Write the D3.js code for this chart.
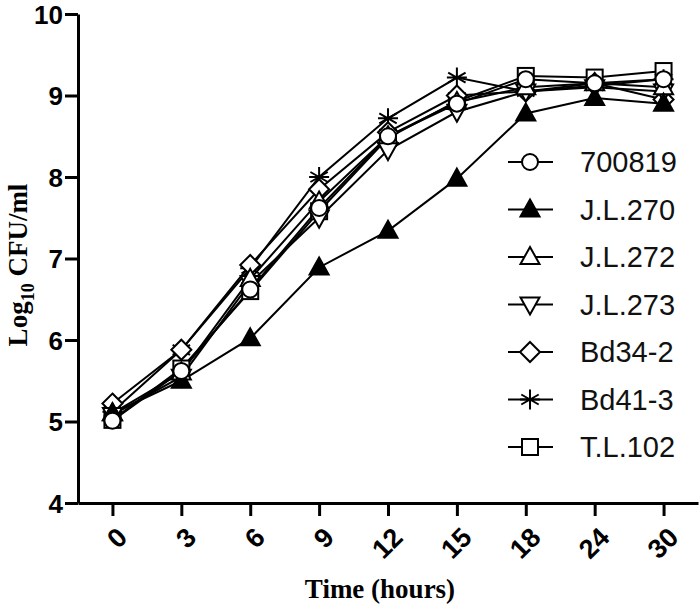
<!DOCTYPE html>
<html>
<head>
<meta charset="utf-8">
<script src="https://cdn.jsdelivr.net/npm/d3@7"></script>
<style>
  body { margin: 0; background: #fff; }
  svg { display: block; }
</style>
</head>
<body>
<div id="chart"></div>
<script>
// time points (hours) and log10 CFU/ml per strain
const hours = ['0', '3', '6', '9', '12', '15', '18', '24', '30'];
const yTicks = [4, 5, 6, 7, 8, 9, 10];

const s700819 = [5.01, 5.62, 6.62, 7.62, 8.50, 8.90, 9.20, 9.15, 9.20];
const sJL270  = [5.10, 5.50, 6.02, 6.89, 7.34, 7.98, 8.78, 8.97, 8.90];
const sJL272  = [5.10, 5.60, 6.75, 7.70, 8.50, 8.92, 9.10, 9.15, 9.10];
const sJL273  = [5.08, 5.55, 6.70, 7.50, 8.33, 8.80, 9.05, 9.10, 9.05];
const sBd342  = [5.22, 5.88, 6.92, 7.85, 8.55, 9.00, 9.05, 9.15, 8.95];
const sBd413  = [5.12, 5.88, 6.88, 8.00, 8.72, 9.22, 9.05, 9.12, 9.20];
const sTL102  = [5.02, 5.65, 6.60, 7.58, 8.48, 8.93, 9.24, 9.22, 9.30];

const seriesNames = ['700819', 'J.L.270', 'J.L.272', 'J.L.273', 'Bd34-2', 'Bd41-3', 'T.L.102'];
const seriesVals = [s700819, sJL270, sJL272, sJL273, sBd342, sBd413, sTL102];
const markers = ['circle', 'triFilled', 'triUp', 'triDown', 'diamond', 'asterisk', 'square'];

const W = 700, H = 611;
const mLeft = 78, mRight = 698, mTop = 14, mBottom = 503;

const svg = d3.select('#chart').append('svg')
  .attr('width', W)
  .attr('height', H);

/* Scales */
const x = d3.scalePoint().domain(hours).range([mLeft, mRight]).padding(0.5);
const y = d3.scaleLinear().domain([4, 10]).range([mBottom, mTop]);

/* marker shapes */
function marker(g, kind) {
  if (kind === 'circle') {
    g.append('circle').attr('r', 8).attr('fill', '#fff').attr('stroke', '#000').attr('stroke-width', 2);
  } else if (kind === 'square') {
    g.append('rect').attr('x', -8).attr('y', -8).attr('width', 16).attr('height', 16)
      .attr('fill', '#fff').attr('stroke', '#000').attr('stroke-width', 2);
  } else if (kind === 'diamond') {
    g.append('path').attr('d', 'M0,-10L10,0L0,10L-10,0Z')
      .attr('fill', '#fff').attr('stroke', '#000').attr('stroke-width', 2);
  } else if (kind === 'triUp' || kind === 'triFilled') {
    g.append('path').attr('d', 'M0,-10L9.5,7L-9.5,7Z')
      .attr('fill', kind === 'triFilled' ? '#000' : '#fff').attr('stroke', '#000').attr('stroke-width', 2);
  } else if (kind === 'triDown') {
    g.append('path').attr('d', 'M0,10L9.5,-7L-9.5,-7Z')
      .attr('fill', '#fff').attr('stroke', '#000').attr('stroke-width', 2);
  } else if (kind === 'asterisk') {
    g.append('path').attr('d', 'M0,-10L0,10M-8.7,-5L8.7,5M-8.7,5L8.7,-5M-10,0L10,0')
      .attr('fill', 'none').attr('stroke', '#000').attr('stroke-width', 2);
  }
}

/* lines */
const line = d3.line()
  .x((d, i) => x(hours[i]))
  .y(d => y(d));

const plot = svg.append('g').attr('class', 'lines');

seriesVals.forEach(vals => {
  plot.append('path')
    .attr('d', line(vals))
    .attr('fill', 'none')
    .attr('stroke', '#000')
    .attr('stroke-width', 2);
});

// markers on top, first series drawn last
for (let k = seriesVals.length - 1; k >= 0; k--) {
  seriesVals[k].forEach((v, i) => {
    const g = plot.append('g').attr('transform', `translate(${x(hours[i])},${y(v)})`);
    marker(g, markers[k]);
  });
}

/* Axes */
const xAxis = d3.axisBottom(x).tickSize(13).tickSizeOuter(0);
const yAxis = d3.axisLeft(y).tickValues(yTicks).tickFormat(d3.format('d')).tickSize(13).tickSizeOuter(0);

const gx = svg.append('g')
  .attr('transform', `translate(0,${mBottom})`)
  .call(xAxis);
gx.select('.domain').attr('stroke-width', 3);
gx.selectAll('.tick line').attr('stroke-width', 3);
gx.selectAll('.tick text')
  .attr('font-family', 'Liberation Sans, Arial, sans-serif')
  .attr('font-weight', 'bold')
  .attr('font-size', 27)
  .attr('fill', '#000')
  .attr('text-anchor', 'end')
  .attr('dy', null)
  .attr('y', 0)
  .attr('transform', 'translate(16,36) rotate(-45)');

const gy = svg.append('g')
  .attr('transform', `translate(${mLeft},0)`)
  .call(yAxis);
gy.select('.domain').attr('stroke-width', 3);
gy.selectAll('.tick line').attr('stroke-width', 3);
gy.selectAll('.tick text')
  .attr('font-family', 'Liberation Sans, Arial, sans-serif')
  .attr('font-weight', 'bold')
  .attr('font-size', 26)
  .attr('fill', '#000')
  .attr('x', -15)
  .attr('dy', '0.36em');

/* Axis titles */
svg.append('text')
  .attr('x', 380)
  .attr('y', 598)
  .attr('text-anchor', 'middle')
  .attr('font-family', 'Liberation Serif, Times New Roman, serif')
  .attr('font-weight', 'bold')
  .attr('font-size', 27)
  .text('Time (hours)');

const yt = svg.append('text')
  .attr('transform', 'translate(27,265) rotate(-90)')
  .attr('text-anchor', 'middle')
  .attr('font-family', 'Liberation Serif, Times New Roman, serif')
  .attr('font-weight', 'bold')
  .attr('font-size', 27);
yt.append('tspan').text('Log');
yt.append('tspan').attr('font-size', 18).attr('dy', 7).text('10');
yt.append('tspan').attr('dy', -7).text(' CFU/ml');

/* Legend */
const legend = svg.append('g').attr('class', 'legend');
seriesNames.forEach((name, k) => {
  const ly = 162 + k * 47.5;
  const g = legend.append('g').attr('transform', `translate(530,${ly})`);
  g.append('line').attr('x1', -22).attr('x2', 23).attr('stroke', '#000').attr('stroke-width', 2);
  marker(g, markers[k]);
  legend.append('text')
    .attr('x', 580)
    .attr('y', ly)
    .attr('dy', '0.36em')
    .attr('font-family', 'Liberation Sans, Arial, sans-serif')
    .attr('font-size', 29)
    .attr('fill', '#111')
    .text(name);
});
</script>
</body>
</html>
